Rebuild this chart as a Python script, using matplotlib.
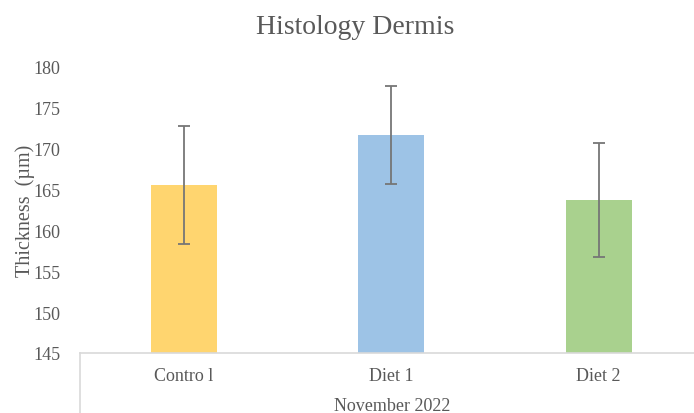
import matplotlib
matplotlib.use("Agg")
import matplotlib.pyplot as plt
from matplotlib.lines import Line2D

categories = ["Contro l", "Diet 1", "Diet 2"]
values = [165.6, 171.7, 163.7]
errors = [7.2, 6.0, 7.0]
colors = ["#FFD56F", "#9DC3E6", "#A9D18E"]
yticks = [145, 150, 155, 160, 165, 170, 175, 180]
group_label = "November 2022"
title = "Histology Dermis"
ylabel = "Thickness  (\u00b5m)"

plt.rcParams['font.family'] = ['Liberation Serif', 'DejaVu Serif']
W, H = 694, 414
fig = plt.figure(figsize=(W / 100, H / 100), dpi=100)
ax = fig.add_axes([80 / W, 60 / H, 622.5 / W, 286 / H])

x = list(range(len(categories)))
ax.bar(x, values, width=0.32, color=colors, zorder=2)
ax.errorbar(x, values, yerr=errors, fmt='none', ecolor='#767676',
            elinewidth=1.3, capsize=4, capthick=1.3, zorder=3)

ax.set_xlim(-0.5, 2.5)
ax.set_ylim(145, 180)
ax.set_yticks(yticks)
ax.set_yticklabels([str(t) for t in yticks])
ax.set_xticks(x)
ax.set_xticklabels(categories)
ax.tick_params(axis='y', length=0, pad=14, labelsize=13, labelcolor='#595959')
ax.tick_params(axis='x', length=0, pad=10, labelsize=13, labelcolor='#595959')

for s in ['top', 'right', 'left']:
    ax.spines[s].set_visible(False)
ax.spines['bottom'].set_color('#d9d9d9')
ax.spines['bottom'].set_linewidth(1.2)

ax.set_ylabel(ylabel, fontsize=14.5, color='#595959', labelpad=-1)

fig.add_artist(Line2D([80 / W, 80 / W], [0, 60 / H], color='#d9d9d9', lw=1.2))

fig.text(392 / W, 1 - 407 / H, group_label, ha='center', va='center',
         fontsize=13, color='#595959')
fig.text(355 / W, 1 - 28 / H, title, ha='center', va='center',
         fontsize=20, color='#595959')

fig.savefig("out.png", dpi=100)
